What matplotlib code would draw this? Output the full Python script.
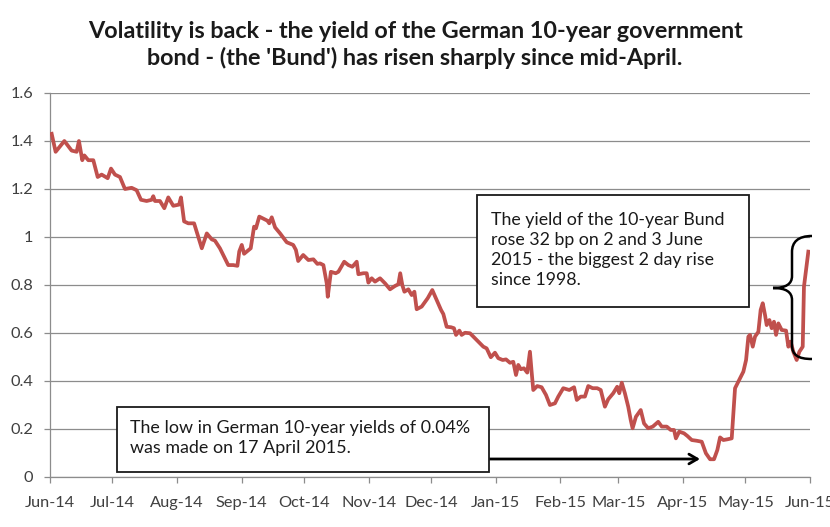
import datetime as dt
import numpy as np
import matplotlib
matplotlib.use("Agg")
import matplotlib.pyplot as plt
import matplotlib.dates as mdates
from matplotlib.patches import Rectangle, PathPatch
from matplotlib.path import Path

plt.rcParams['font.family'] = ['Lato', 'DejaVu Sans']

# data: days after 1 June 2014 and yield (%)
start = dt.date(2014, 6, 1)
days_since_start = [
    0.8, 2.7, 6.9, 10.4, 12.8, 13.9, 15.5, 16.5, 18.4, 20.8, 22.9, 24.8, 27.7, 29.3, 31.2,
    33.6, 36.0, 39.2, 41.6, 43.7, 46.4, 48.8, 49.6, 50.4, 52.8, 54.9, 56.8, 59.2, 62.0, 62.9,
    64.4, 66.4, 69.2, 70.7, 72.9, 75.3, 77.7, 79.2, 81.6, 83.6, 85.6, 88.0, 90.0, 90.9, 92.1,
    93.2, 96.4, 98.0, 98.9, 100.5, 104.4, 105.3, 106.5, 108.1, 110.5, 113.7, 116.8, 118.1,
    119.2, 121.6, 124.1, 126.5, 128.4, 129.7, 131.3, 132.9, 133.4, 134.9, 137.2, 138.5,
    141.3, 143.3, 145.2, 147.3, 148.1, 150.5, 152.1, 152.9, 154.5, 156.1, 158.5, 160.9,
    163.3, 165.7, 167.3, 168.2, 169.2, 170.2, 172.1, 173.7, 175.0, 176.1, 178.5, 181.4,
    183.6, 185.7, 187.8, 188.9, 190.5, 192.6, 194.0, 195.0, 196.6, 197.7, 199.3, 201.7,
    204.1, 206.5, 208.1, 209.7, 211.7, 213.7, 215.3, 217.4, 219.0, 220.9, 222.5, 223.8,
    224.9, 226.1, 227.6, 229.2, 230.5, 231.3, 232.1, 234.0, 236.1, 238.2, 240.1, 242.5,
    244.1, 246.5, 249.4, 251.7, 253.0, 254.9, 256.9, 258.5, 260.6, 262.8, 264.5, 266.5,
    268.1, 270.5, 272.4, 273.4, 274.6, 276.1, 277.7, 278.9, 279.8, 281.4, 283.7, 285.3,
    287.3, 289.5, 292.1, 293.8, 296.2, 298.1, 299.7, 300.6, 302.2, 304.5, 306.1, 308.2,
    310.6, 313.0, 315.0, 317.0, 318.9, 320.5, 321.8, 323.4, 325.3, 327.4, 328.2, 329.0,
    331.0, 333.0, 334.3, 335.4, 336.2, 337.5, 338.6, 340.2, 341.3, 342.3, 343.4, 344.2,
    345.5, 346.6, 347.7, 348.7, 349.8, 351.4, 353.5, 354.6, 355.7, 357.0, 358.6, 359.9,
    361.5, 362.1, 364.2,
]
bund_yield = [
    1.43, 1.355, 1.40, 1.36, 1.355, 1.40, 1.32, 1.34, 1.32, 1.32, 1.25, 1.26, 1.245, 1.285, 1.26,
    1.25, 1.20, 1.205, 1.195, 1.155, 1.15, 1.155, 1.17, 1.15, 1.15, 1.12, 1.165, 1.13, 1.135, 1.165,
    1.065, 1.057, 1.057, 1.015, 0.953, 1.015, 0.99, 0.985, 0.953, 0.918, 0.883, 0.883, 0.88, 0.94, 0.967,
    0.93, 0.953, 1.043, 1.036, 1.085, 1.068, 1.057, 1.082, 1.04, 1.015, 0.978, 0.967, 0.946,
    0.90, 0.925, 0.904, 0.907, 0.888, 0.89, 0.883, 0.807, 0.751, 0.855, 0.849, 0.855,
    0.897, 0.883, 0.876, 0.897, 0.845, 0.849, 0.849, 0.81, 0.828, 0.814, 0.828, 0.807,
    0.782, 0.796, 0.803, 0.849, 0.80, 0.772, 0.782, 0.758, 0.772, 0.699, 0.71, 0.745,
    0.779, 0.7375, 0.696, 0.679, 0.626, 0.624, 0.62, 0.592, 0.61, 0.592, 0.601, 0.599,
    0.578, 0.557, 0.543, 0.536, 0.499, 0.518, 0.495, 0.4875, 0.49, 0.476, 0.48, 0.425,
    0.467, 0.449, 0.453, 0.435, 0.522, 0.439, 0.3625, 0.379, 0.374, 0.342, 0.30, 0.307,
    0.335, 0.37, 0.3625, 0.374, 0.321, 0.335, 0.335, 0.379, 0.37, 0.37, 0.3625, 0.293,
    0.324, 0.349, 0.376, 0.349, 0.393, 0.349, 0.293, 0.2375, 0.203, 0.251, 0.279, 0.223,
    0.203, 0.21, 0.23, 0.21, 0.21, 0.196, 0.196, 0.161, 0.189, 0.182, 0.171, 0.154,
    0.151, 0.147, 0.099, 0.074, 0.074, 0.1125, 0.165, 0.154, 0.157, 0.161, 0.265, 0.37,
    0.404, 0.439, 0.4875, 0.585, 0.592, 0.543, 0.585, 0.605, 0.696, 0.724, 0.675, 0.633,
    0.654, 0.62, 0.647, 0.592, 0.64, 0.6125, 0.61, 0.543, 0.564, 0.522, 0.4875, 0.522,
    0.543, 0.793, 0.939,
]
y_ticks = [0, 0.2, 0.4, 0.6, 0.8, 1, 1.2, 1.4, 1.6]
title = ("Volatility is back - the yield of the German 10-year government\n"
         "bond - (the 'Bund') has risen sharply since mid-April.")
note_rise = ("The yield of the 10-year Bund\nrose 32 bp on 2 and 3 June\n"
             "2015 - the biggest 2 day rise\nsince 1998.")
note_low = "The low in German 10-year yields of 0.04%\nwas made on 17 April 2015."

W, H = 830, 527
fig = plt.figure(figsize=(W / 100, H / 100), dpi=100)
fig.patch.set_facecolor('white')


def fx(px):
    return px / W


def fy(py):
    return 1 - py / H


ax = fig.add_axes([fx(50), fy(477), fx(810) - fx(50), fy(93) - fy(477)])
x0 = mdates.date2num(start)
x = x0 + np.array(days_since_start)
ax.plot(x, bund_yield, color='#C0504D', lw=2.7, solid_joinstyle='round', zorder=3)

ax.set_xlim(x0, mdates.date2num(dt.date(2015, 6, 1)))
ax.set_ylim(0, 1.6)
ax.set_yticks(y_ticks)
ax.yaxis.set_major_formatter(plt.FuncFormatter(lambda v, p: f"{v:g}"))
ax.xaxis.set_major_locator(mdates.MonthLocator())
ax.xaxis.set_major_formatter(mdates.DateFormatter('%b-%y'))
ax.grid(axis='y', color='#8c8c8c', lw=0.9)
ax.set_axisbelow(True)
for s in ['top', 'right']:
    ax.spines[s].set_visible(False)
for s in ['left', 'bottom']:
    ax.spines[s].set_color('#8c8c8c')
    ax.spines[s].set_linewidth(0.9)
ax.tick_params(axis='both', colors='#8c8c8c', labelcolor='#404040', labelsize=11.8,
               length=4, width=0.9)
ax.tick_params(axis='x', pad=10)
ax.tick_params(axis='y', pad=8)

fig.text(fx(415), fy(45), title, ha='center', va='center', fontsize=16.8,
         fontweight='bold', color='#1a1a1a', linespacing=1.3)

# annotation boxes
fig.patches.append(Rectangle((fx(477), fy(307)), fx(749) - fx(477), fy(195) - fy(307),
                             transform=fig.transFigure, fc='white', ec='#1a1a1a', lw=1.3,
                             zorder=5))
fig.text(fx(491), fy(250), note_rise, ha='left', va='center', fontsize=12.8,
         color='#1a1a1a', linespacing=1.32, zorder=6)

fig.patches.append(Rectangle((fx(117), fy(472)), fx(489) - fx(117), fy(407) - fy(472),
                             transform=fig.transFigure, fc='white', ec='#1a1a1a', lw=1.3,
                             zorder=5))
fig.text(fx(130), fy(438), note_low, ha='left', va='center', fontsize=12.9,
         color='#1a1a1a', linespacing=1.3, zorder=6)

ax.annotate('', xy=(fx(700), fy(459)), xytext=(fx(489), fy(459)),
            xycoords='figure fraction', textcoords='figure fraction',
            arrowprops=dict(arrowstyle='->,head_length=0.6,head_width=0.35',
                            color='black', lw=2, shrinkA=0, shrinkB=0))

# curly brace for the June jump
pts = [(812, 236), (798, 236), (792, 242), (792, 252), (792, 276),
       (792, 284), (786, 288), (773, 288), (786, 288), (792, 292), (792, 300),
       (792, 345), (792, 355), (798, 359), (812, 359)]
codes = [Path.MOVETO, Path.CURVE4, Path.CURVE4, Path.CURVE4, Path.LINETO,
         Path.CURVE4, Path.CURVE4, Path.CURVE4, Path.CURVE4, Path.CURVE4, Path.CURVE4,
         Path.LINETO, Path.CURVE4, Path.CURVE4, Path.CURVE4]
brace = Path([(fx(a), fy(b)) for a, b in pts], codes)
fig.patches.append(PathPatch(brace, transform=fig.transFigure, fc='none', ec='black',
                             lw=1.8, zorder=6))

fig.savefig('out.png', dpi=100)
